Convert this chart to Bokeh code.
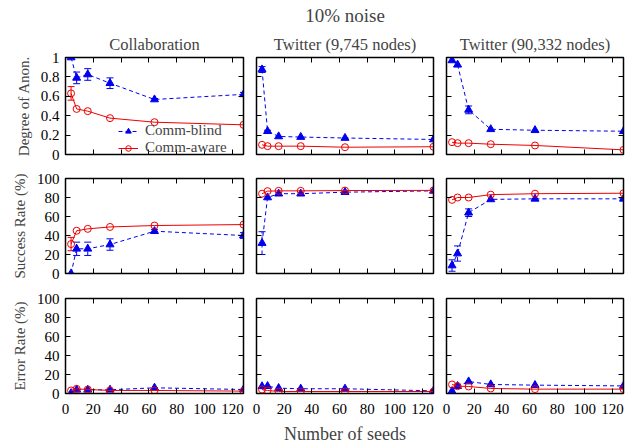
from bokeh.plotting import figure
from bokeh.layouts import column, row
from bokeh.models import (LinearAxis, FixedTicker, Range1d, Whisker, ColumnDataSource,
                          TeeHead, Title, Legend, LegendItem)
from bokeh.embed import file_html
from bokeh.resources import INLINE

FONT = "Liberation Serif"

seeds = [4, 8, 16, 32, 64, 128]
x_ticks = [0, 20, 40, 60, 80, 100, 120]
x_tick_labels = ["0", "20", "40", "60", "80", "100", "120"]
doa_ticks = [0, 0.2, 0.4, 0.6, 0.8, 1.0]
doa_tick_labels = ["0", "0.2", "0.4", "0.6", "0.8", "1"]
pct_ticks = [0, 20, 40, 60, 80, 100]
pct_tick_labels = ["0", "20", "40", "60", "80", "100"]

col_titles = ["Collaboration", "Twitter (9,745 nodes)", "Twitter (90,332 nodes)"]
row_labels = ["Degree of Anon.", "Success Rate (%)", "Error Rate (%)"]
main_title = "10% noise"
x_label = "Number of seeds"
series_names = ["Comm-blind", "Comm-aware"]

# Degree of anonymity
doa_collab_blind = [1.00, 0.79, 0.825, 0.735, 0.567, 0.62]
doa_collab_blind_err = [0.0, 0.06, 0.06, 0.055, 0.01, 0.02]
doa_collab_aware = [0.63, 0.47, 0.447, 0.375, 0.333, 0.306]
doa_collab_aware_err = [0.07, 0.0, 0.0, 0.0, 0.0, 0.0]
doa_tw1_blind = [0.876, 0.24, 0.186, 0.18, 0.17, 0.155]
doa_tw1_blind_err = [0.03, 0.01, 0.0, 0.0, 0.0, 0.0]
doa_tw1_aware = [0.10, 0.086, 0.086, 0.086, 0.075, 0.08]
doa_tw1_aware_err = [0.0, 0.0, 0.0, 0.0, 0.0, 0.0]
doa_tw2_blind = [0.97, 0.925, 0.46, 0.26, 0.25, 0.24]
doa_tw2_blind_err = [0.0, 0.0, 0.04, 0.0, 0.0, 0.0]
doa_tw2_aware = [0.127, 0.117, 0.117, 0.106, 0.093, 0.048]
doa_tw2_aware_err = [0.0, 0.0, 0.0, 0.0, 0.0, 0.0]

# Success rate (%)
sr_collab_blind = [0.0, 26.0, 26.0, 30.5, 44.5, 40.0]
sr_collab_blind_err = [0.0, 7.0, 7.0, 6.0, 2.0, 3.0]
sr_collab_aware = [31.0, 45.0, 47.0, 49.0, 50.5, 51.5]
sr_collab_aware_err = [7.0, 0.0, 0.0, 0.0, 0.0, 0.0]
sr_tw1_blind = [32.0, 80.0, 84.0, 84.0, 85.6, 87.0]
sr_tw1_blind_err = [12.0, 0.0, 0.0, 0.0, 0.0, 0.0]
sr_tw1_aware = [84.0, 86.7, 87.0, 87.0, 87.3, 87.5]
sr_tw1_aware_err = [0.0, 0.0, 0.0, 0.0, 0.0, 0.0]
sr_tw2_blind = [8.4, 21.0, 64.0, 78.0, 78.6, 78.6]
sr_tw2_blind_err = [6.0, 8.0, 4.0, 0.0, 0.0, 0.0]
sr_tw2_aware = [77.5, 80.0, 80.0, 83.0, 84.0, 84.5]
sr_tw2_aware_err = [0.0, 0.0, 0.0, 0.0, 0.0, 0.0]

# Error rate (%)
er_collab_blind = [0.3, 3.9, 3.9, 3.9, 6.0, 4.2]
er_collab_aware = [3.2, 4.9, 4.2, 3.2, 3.2, 2.5]
er_tw1_blind = [7.5, 7.7, 5.6, 5.0, 5.0, 2.8]
er_tw1_aware = [4.2, 3.2, 2.1, 2.1, 2.1, 2.1]
er_tw2_blind = [2.5, 7.7, 12.6, 9.5, 8.8, 8.0]
er_tw2_aware = [9.5, 7.7, 7.4, 5.3, 4.6, 4.6]
er_zero = [0.0, 0.0, 0.0, 0.0, 0.0, 0.0]

panels = [
    [(doa_collab_blind, doa_collab_blind_err, doa_collab_aware, doa_collab_aware_err),
     (doa_tw1_blind, doa_tw1_blind_err, doa_tw1_aware, doa_tw1_aware_err),
     (doa_tw2_blind, doa_tw2_blind_err, doa_tw2_aware, doa_tw2_aware_err)],
    [(sr_collab_blind, sr_collab_blind_err, sr_collab_aware, sr_collab_aware_err),
     (sr_tw1_blind, sr_tw1_blind_err, sr_tw1_aware, sr_tw1_aware_err),
     (sr_tw2_blind, sr_tw2_blind_err, sr_tw2_aware, sr_tw2_aware_err)],
    [(er_collab_blind, er_zero, er_collab_aware, er_zero),
     (er_tw1_blind, er_zero, er_tw1_aware, er_zero),
     (er_tw2_blind, er_zero, er_tw2_aware, er_zero)],
]

BLUE = "#0000ee"
RED = "#ee0000"

FW = [178, 177, 177]
BL = [65, 7, 7]
BR = [6, 6, 6]
FH = [97, 95, 95]
BT = [57, 12, 13]
BB = [12, 12, 50]


def style_axis(ax, ticks, labels, show, standoff=6):
    ax.ticker = FixedTicker(ticks=ticks)
    ax.major_tick_in = 5
    ax.major_tick_out = 0
    ax.minor_tick_line_color = None
    ax.major_tick_line_color = "black"
    ax.major_tick_line_width = 1
    ax.axis_line_color = "black"
    ax.axis_line_width = 1
    if show:
        ax.major_label_overrides = {t: l for t, l in zip(ticks, labels)}
        ax.major_label_text_font = FONT
        ax.major_label_text_font_size = "15px"
        ax.major_label_text_color = "black"
        ax.major_label_standoff = standoff
    else:
        ax.major_label_text_font_size = "0px"
        ax.major_label_text_color = None
        ax.major_label_standoff = 0


def errorbars(p, ys, errs, color, dash):
    xs = [x for x, e in zip(seeds, errs) if e > 0]
    up = [y + e for y, e in zip(ys, errs) if e > 0]
    lo = [y - e for y, e in zip(ys, errs) if e > 0]
    if not xs:
        return
    src = ColumnDataSource(dict(x=xs, up=up, lo=lo))
    w = Whisker(source=src, base="x", upper="up", lower="lo", dimension="height",
                line_color=color, line_width=1, line_dash=dash,
                upper_head=TeeHead(size=7, line_color=color, line_width=1),
                lower_head=TeeHead(size=7, line_color=color, line_width=1))
    p.add_layout(w)


rows = []
for r in range(3):
    figs = []
    for c in range(3):
        ymax = 1.0 if r == 0 else 100.0
        yt = doa_ticks if r == 0 else pct_ticks
        ytl = doa_tick_labels if r == 0 else pct_tick_labels
        p = figure(frame_width=FW[c], frame_height=FH[r],
                   min_border_left=BL[c], min_border_right=BR[c],
                   min_border_top=BT[r], min_border_bottom=BB[r],
                   x_range=Range1d(0, 128), y_range=Range1d(0, ymax),
                   output_backend="svg", toolbar_location=None, title=None)
        p.xgrid.visible = False
        p.ygrid.visible = False
        p.outline_line_color = "black"
        p.outline_line_width = 1.5
        p.background_fill_color = "white"
        p.border_fill_color = "white"

        bottom_ax = p.xaxis[0]
        left_ax = p.yaxis[0]
        style_axis(bottom_ax, x_ticks, x_tick_labels, r == 2, standoff=10)
        style_axis(left_ax, yt, ytl, c == 0, standoff=6)
        top = LinearAxis()
        style_axis(top, x_ticks, x_tick_labels, False)
        p.add_layout(top, "above")
        right = LinearAxis()
        style_axis(right, yt, ytl, False)
        p.add_layout(right, "right")

        if c == 0:
            left_ax.axis_label = row_labels[r]
            left_ax.axis_label_text_font = FONT
            left_ax.axis_label_text_font_style = "normal"
            left_ax.axis_label_text_font_size = "15px"
            left_ax.axis_label_standoff = 6
        if r == 2 and c == 1:
            bottom_ax.axis_label = x_label
            bottom_ax.axis_label_text_font = FONT
            bottom_ax.axis_label_text_font_style = "normal"
            bottom_ax.axis_label_text_font_size = "18px"
            bottom_ax.axis_label_standoff = 7

        if r == 0:
            p.add_layout(Title(text=col_titles[c], align="center", text_font=FONT,
                               text_font_size="16.5px", text_font_style="normal",
                               standoff=8), "above")
            if c == 1:
                p.add_layout(Title(text=main_title, align="center", text_font=FONT,
                                   text_font_size="19px", text_font_style="normal",
                                   standoff=5), "above")

        blind, blind_err, aware, aware_err = panels[r][c]
        errorbars(p, blind, blind_err, BLUE, "4 3")
        errorbars(p, aware, aware_err, RED, "solid")
        bl = p.line(seeds, blind, line_color=BLUE, line_width=1, line_dash="4 3")
        bs = p.scatter(seeds, blind, marker="triangle", size=8, fill_color=BLUE,
                       line_color=BLUE)
        al = p.line(seeds, aware, line_color=RED, line_width=1)
        as_ = p.scatter(seeds, aware, marker="circle", size=7, fill_color=None,
                        line_color=RED, line_width=1)

        if r == 0 and c == 0:
            leg = Legend(items=[LegendItem(label=series_names[0], renderers=[bl, bs]),
                                LegendItem(label=series_names[1], renderers=[al, as_])],
                         location=(53, -2), border_line_color=None,
                         background_fill_alpha=0, label_text_font=FONT,
                         label_text_font_size="15px", glyph_width=20,
                         glyph_height=14, label_height=16, spacing=0, padding=2,
                         margin=0, label_standoff=7)
            p.add_layout(leg)
        figs.append(p)
    rows.append(row(*figs))

layout = column(*rows)
open("out.html", "w").write(file_html(layout, INLINE))
